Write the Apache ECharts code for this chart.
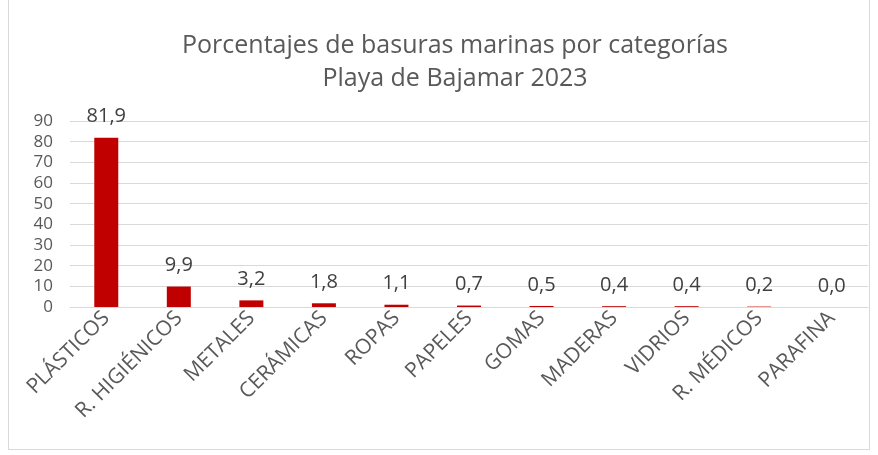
<!DOCTYPE html>
<html>
<head>
<meta charset="utf-8">
<script src="https://cdn.jsdelivr.net/npm/echarts@6/dist/echarts.min.js"></script>
<style>
html,body{margin:0;padding:0;background:#fff;}
#box{position:absolute;left:8px;top:-2px;width:862px;height:452px;border:1px solid #d9d9d9;box-sizing:border-box;}
#main{width:878px;height:455px;position:absolute;left:0;top:0;}
</style>
</head>
<body>
<div id="box"></div>
<div id="main"></div>
<script>
var categorias = ['PLÁSTICOS','R. HIGIÉNICOS','METALES','CERÁMICAS','ROPAS','PAPELES','GOMAS','MADERAS','VIDRIOS','R. MÉDICOS','PARAFINA'];
var porcentajes = [81.9, 9.9, 3.2, 1.8, 1.1, 0.7, 0.5, 0.4, 0.4, 0.2, 0.0];

var myChart = echarts.init(document.getElementById('main'));
var option = {
	title: {
		text: 'Porcentajes de basuras marinas por categorías\nPlaya de Bajamar 2023',
		left: 450,
		top: 24,
		textAlign: 'center',
		textStyle: {
			fontFamily: 'Open Sans',
			fontSize: 25,
			fontWeight: 'normal',
			color: '#595959',
			lineHeight: 33
		}
	},
	grid: {
		left: 70,
		right: 10,
		top: 121,
		bottom: 148
	},
	xAxis: {
		type: 'category',
		data: categorias,
		axisLine: {lineStyle: {color: '#d9d9d9', width: 1}},
		axisTick: {show: false},
		axisLabel: {
			rotate: 45,
			interval: 0,
			margin: 8,
			fontFamily: 'Open Sans',
			fontSize: 21,
			color: '#595959'
		}
	},
	yAxis: {
		type: 'value',
		min: 0,
		max: 90,
		interval: 10,
		axisLine: {show: false},
		axisTick: {show: false},
		splitLine: {lineStyle: {color: '#d9d9d9', width: 1}},
		axisLabel: {
			margin: 17,
			fontFamily: 'Open Sans',
			fontSize: 17,
			color: '#595959'
		}
	},
	series: [{
		type: 'bar',
		data: porcentajes,
		barWidth: 24,
		itemStyle: {color: '#c00000'},
		label: {
			show: true,
			position: 'top',
			distance: 11,
			fontFamily: 'Open Sans',
			fontSize: 20,
			color: '#404040',
			formatter: function (p) { return p.value.toFixed(1).replace('.', ','); }
		}
	}]
};
myChart.setOption(option);
</script>
</body>
</html>
